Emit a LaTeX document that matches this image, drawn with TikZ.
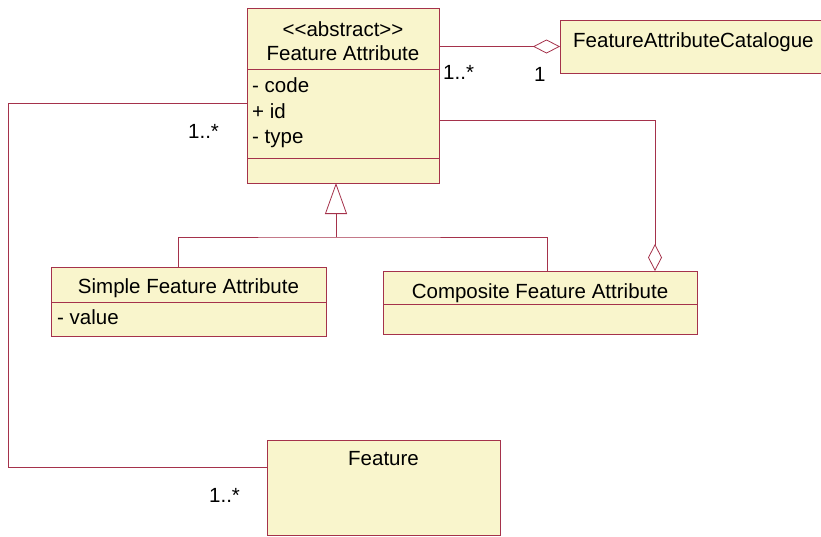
\documentclass[tikz,border=0pt]{standalone}
\usepackage{fontspec}
\setmainfont{Liberation Sans}
\usetikzlibrary{arrows.meta}

\definecolor{umlline}{RGB}{165,50,75}
\definecolor{umlfill}{RGB}{249,245,204}

\tikzset{
  classbox/.style={draw=umlline, fill=umlfill, line width=1pt, rectangle,
    anchor=north west, inner sep=0pt, outer sep=0pt},
  divider/.style={draw=umlline, line width=1pt},
  conn/.style={draw=umlline, line width=0.8pt},
  agg/.style={conn, -{Diamond[open, length=27pt, width=14pt, line width=0.8pt]}},
  gen/.style={conn, -{Triangle[open, length=31pt, width=22pt, line width=0.8pt]}},
  txt/.style={inner sep=0pt, font=\fontsize{20.5}{24}\selectfont},
  mult/.style={txt, anchor=base west},
}

\begin{document}
\begin{tikzpicture}[x=1pt, y=-1pt]
\useasboundingbox[fill=white] (0,0) rectangle (821,536);

% class boxes
\node[classbox, minimum width=192pt, minimum height=175pt] (fa) at (247,8) {};
\node[classbox, minimum width=262pt, minimum height=53pt] (cat) at (560,20) {};
\node[classbox, minimum width=275pt, minimum height=69pt] (simple) at (51,267) {};
\node[classbox, minimum width=314pt, minimum height=63pt] (comp) at (383,271) {};
\node[classbox, minimum width=233pt, minimum height=95pt] (feat) at (267,440) {};

% compartment dividers
\draw[divider] (fa.west |- 0,69) -- (fa.east |- 0,69);
\draw[divider] (fa.west |- 0,158) -- (fa.east |- 0,158);
\draw[divider] (simple.west |- 0,302) -- (simple.east |- 0,302);
\draw[divider] (comp.west |- 0,304) -- (comp.east |- 0,304);

% class texts
\node[txt, anchor=base] (fa-st) at (343,36) {<{}<abstract>{}>};
\node[txt, anchor=base] (fa-name) at (343,60) {Feature Attribute};
\node[txt, anchor=base west] (fa-a1) at (252,92) {- code};
\node[txt, anchor=base west] (fa-a2) at (252,118) {+ id};
\node[txt, anchor=base west] (fa-a3) at (252,143) {- type};
\node[txt, anchor=base west] (cat-name) at (573,47) {FeatureAttributeCatalogue};
\node[txt, anchor=base] (simple-name) at (188.5,293) {Simple Feature Attribute};
\node[txt, anchor=base west] (simple-a1) at (57,324) {- value};
\node[txt, anchor=base] (comp-name) at (540,298) {Composite Feature Attribute};
\node[txt, anchor=base] (feat-name) at (383.5,465) {Feature};

% aggregation: attribute -> catalogue
\draw[agg] (fa.east |- cat.west) -- (cat.west);
\node[mult] (m1) at (443,79) {1..*};
\node[mult] (m2) at (534,81) {1};

% aggregation: attribute -> composite
\draw[agg] (fa.east |- 0,120) -| (comp.north -| 655,0);

% generalization
\draw[conn] (simple.north -| 178,0) |- (336,237) -| (comp.north -| 547,0);
\draw[gen] (336,237) -- (fa.south -| 336,0);

% association: attribute -- feature
\draw[conn] (fa.west |- 0,103) -| (8,467) -- (feat.west |- 0,467);
\node[mult] (m3) at (188,138) {1..*};
\node[mult] (m4) at (209,502) {1..*};
\end{tikzpicture}
\end{document}
